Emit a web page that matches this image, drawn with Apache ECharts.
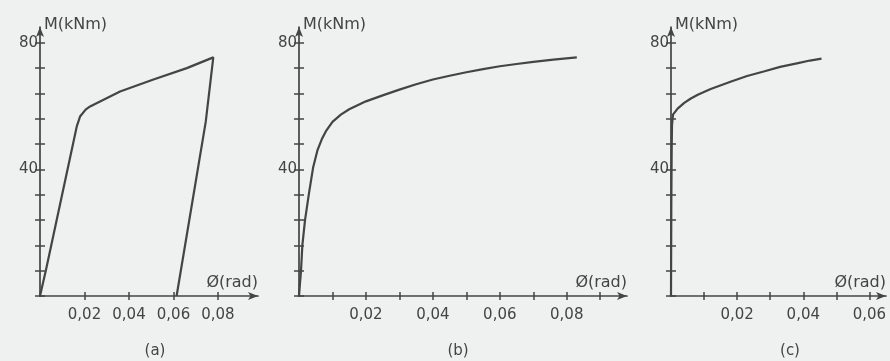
<!DOCTYPE html>
<html>
<head>
<meta charset="utf-8">
<script src="https://cdn.jsdelivr.net/npm/echarts@6/dist/echarts.min.js"></script>
<style>
    html, body { margin: 0; padding: 0; background: #eef1ef; }
    #chart { width: 890px; height: 361px; }
</style>
</head>
<body>
<div id="chart"></div>
<script>
// (a) bilinear with unloading branch
var phiA = [0, 0.0026, 0.0165, 0.018, 0.0205, 0.0225, 0.036, 0.051, 0.066, 0.0779, 0.0745, 0.0614];
var momA = [0, 8, 53.5, 56.7, 58.9, 59.9, 64.6, 68.4, 72, 75.4, 55, 0];
// (b) smooth curve
var phiB = [0, 0.0006, 0.001, 0.0018, 0.003, 0.0042, 0.0055, 0.0068, 0.008, 0.01, 0.0125, 0.015, 0.0175, 0.02,
    0.025, 0.03, 0.035, 0.04, 0.045, 0.05, 0.055, 0.06, 0.065, 0.07, 0.076, 0.083];
var momB = [0, 8, 16, 24, 32.6, 40.5, 46, 49.5, 52, 55, 57.3, 59, 60.3, 61.5,
    63.4, 65.2, 66.9, 68.4, 69.6, 70.7, 71.7, 72.6, 73.3, 74, 74.7, 75.4];
// (c) near-vertical rise then hardening
var phiC = [0, 0.00005, 0.0001, 0.0002, 0.0003, 0.0006, 0.002, 0.004, 0.006, 0.0081, 0.012, 0.0182,
    0.023, 0.0283, 0.033, 0.0384, 0.042, 0.0455];
var momC = [0, 15, 30, 45, 54, 57.3, 59.2, 61, 62.4, 63.6, 65.4, 67.8,
    69.5, 71, 72.4, 73.6, 74.4, 75];

var yTicks = [0, 8, 16, 24, 32, 40, 48, 56, 64, 72, 80];
var yLabels = [40, 80];
var xTicksA = [0.02, 0.04, 0.06, 0.08];
var xLabelsA = [0.02, 0.04, 0.06, 0.08];
var xTicksB = [0.01, 0.02, 0.03, 0.04, 0.05, 0.06, 0.07, 0.08, 0.09];
var xLabelsB = [0.02, 0.04, 0.06, 0.08];
var xTicksC = [0.01, 0.02, 0.03, 0.04, 0.05, 0.06];
var xLabelsC = [0.02, 0.04, 0.06];
var captions = ['(a)', '(b)', '(c)'];

var ink = '#444';
var font = 'DejaVu Sans';

function pairs(xs, ys) {
    var out = [];
    for (var i = 0; i < xs.length; i++) out.push([xs[i], ys[i]]);
    return out;
}

function fmt(v) {
    return v.toFixed(2).replace('.', ',');
}

var panels = [
    {left: 40, width: 218, max: 0.098, ticks: xTicksA, labels: xLabelsA, cap: 150},
    {left: 299, width: 328, max: 0.098, ticks: xTicksB, labels: xLabelsB, cap: 453},
    {left: 671, width: 215, max: 0.065, ticks: xTicksC, labels: xLabelsC, cap: 785}
];

var grids = [], xAxes = [], yAxes = [], titles = [];
panels.forEach(function (p, i) {
    grids.push({left: p.left, width: p.width, top: 27, height: 269});
    // main x axis: line, outer ticks, labels, name
    xAxes.push({
        type: 'value', gridIndex: i, min: 0, max: p.max, position: 'bottom',
        splitLine: {show: false},
        axisLine: {show: true, symbol: ['none', 'arrow'], symbolSize: [6, 10],
            lineStyle: {color: ink, width: 1.7}},
        axisTick: {show: true, inside: false, length: 4, customValues: p.ticks,
            lineStyle: {color: ink, width: 1.5}},
        axisLabel: {show: true, customValues: p.labels, formatter: fmt, margin: 12,
            color: ink, fontSize: 15, fontFamily: font},
        name: 'Ø(rad)', nameLocation: 'end', nameGap: 0,
        nameTextStyle: {align: 'right', verticalAlign: 'bottom', padding: [0, 0, 5, 0],
            color: ink, fontSize: 16, fontFamily: font}
    });
    // overlay x axis: inner half of the crossing ticks
    xAxes.push({
        type: 'value', gridIndex: i, min: 0, max: p.max, position: 'bottom',
        splitLine: {show: false}, axisLine: {show: false},
        axisTick: {show: true, inside: true, length: 4, customValues: p.ticks,
            lineStyle: {color: ink, width: 1.5}},
        axisLabel: {show: false}
    });
    yAxes.push({
        type: 'value', gridIndex: i, min: 0, max: 85, position: 'left',
        splitLine: {show: false},
        axisLine: {show: true, symbol: ['none', 'arrow'], symbolSize: [6, 10],
            lineStyle: {color: ink, width: 1.7}},
        axisTick: {show: true, inside: false, length: 5, customValues: yTicks,
            lineStyle: {color: ink, width: 1.5}},
        axisLabel: {show: true, customValues: yLabels, margin: 2,
            color: ink, fontSize: 15, fontFamily: font},
        name: 'M(kNm)', nameLocation: 'end', nameGap: 2,
        nameTextStyle: {align: 'left', verticalAlign: 'middle', padding: [0, 0, 0, 4],
            color: ink, fontSize: 16, fontFamily: font}
    });
    yAxes.push({
        type: 'value', gridIndex: i, min: 0, max: 85, position: 'left',
        splitLine: {show: false}, axisLine: {show: false},
        axisTick: {show: true, inside: true, length: 5, customValues: yTicks,
            lineStyle: {color: ink, width: 1.5}},
        axisLabel: {show: false}
    });
    titles.push({
        text: captions[i], left: p.cap, top: 339, textAlign: 'center',
        textStyle: {color: ink, fontSize: 15, fontWeight: 'normal', fontFamily: font}
    });
});

var lineStyle = {color: ink, width: 2.2};
var myChart = echarts.init(document.getElementById('chart'));
var option = {
    backgroundColor: '#eef1ef',
    animation: false,
    title: titles,
    grid: grids,
    xAxis: xAxes,
    yAxis: yAxes,
    series: [
        {type: 'line', xAxisIndex: 0, yAxisIndex: 0, data: pairs(phiA, momA),
            showSymbol: false, lineStyle: lineStyle},
        {type: 'line', xAxisIndex: 2, yAxisIndex: 2, data: pairs(phiB, momB),
            showSymbol: false, lineStyle: lineStyle},
        {type: 'line', xAxisIndex: 4, yAxisIndex: 4, data: pairs(phiC, momC),
            showSymbol: false, lineStyle: lineStyle}
    ]
};
myChart.setOption(option);
</script>
</body>
</html>
